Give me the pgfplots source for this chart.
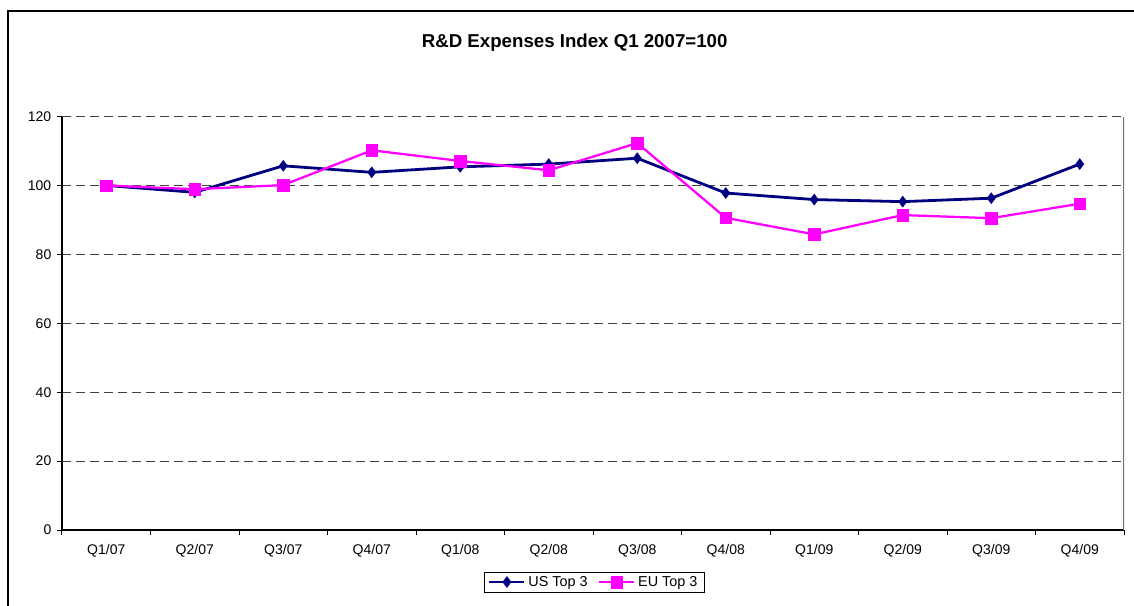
\documentclass[border=0pt]{standalone}
\usepackage{fontspec}
\setmainfont{Liberation Sans}
\usepackage{pgfplots}
\pgfplotsset{compat=1.18}
\definecolor{usnavy}{RGB}{0,0,128}
\definecolor{eumag}{RGB}{255,0,255}
\begin{document}
\begin{tikzpicture}
\path[use as bounding box] (0,0) rectangle (850.5pt,-454.5pt);
\draw[line width=1.7pt] (6.15pt,-455pt) -- (6.15pt,-8.3pt) -- (851pt,-8.3pt);
\node[font=\fontsize{14}{16}\selectfont\bfseries, anchor=base] at (431pt,-35.5pt) {R\&D Expenses Index Q1 2007=100};
\begin{axis}[
  at={(46.5pt,-397.5pt)}, anchor=south west,
  scale only axis, width=796.5pt, height=310.1pt,
  xmin=-0.5, xmax=11.5, ymin=0, ymax=120,
  axis lines*=left, axis line style={-, black, line width=0.8pt},
  xtick={0,...,11},
  xticklabels={Q1/07,Q2/07,Q3/07,Q4/07,Q1/08,Q2/08,Q3/08,Q4/08,Q1/09,Q2/09,Q3/09,Q4/09},
  minor xtick={-0.5,0.5,...,11.5},
  ytick={0,20,...,120},
  tick align=outside, major tick length=3.5pt, minor tick length=3.5pt,
  tick style={black, line width=0.75pt},
  major x tick style={draw=none},
  ymajorgrids, grid style={dash pattern=on 6.5pt off 4pt, black!75, line width=0.7pt},
  ticklabel style={font=\fontsize{10.5}{12}\selectfont},
  /pgf/number format/assume math mode=true,
  xticklabel style={yshift=-4pt},
  yticklabel style={xshift=-1pt},
  legend columns=2,
  legend cell align=left,
  legend style={at={(0.501,-0.1258)}, anchor=center, draw=black, line width=0.6pt,
    font=\fontsize{10.8}{12}\selectfont, inner xsep=3pt, inner ysep=1pt,
    /tikz/every even column/.append style={column sep=6pt}},
  legend image code/.code={\draw[mark repeat=2,mark phase=2,#1] plot coordinates {(0cm,0cm) (0.46cm,0cm) (0.92cm,0cm)};},
]
\draw[black!55, line width=1pt] (rel axis cs:1,0) -- (rel axis cs:1,1);
\addplot[usnavy, line width=2.1pt, mark=diamond*, mark size=4pt, mark options={solid, line width=0.5pt}]
  coordinates {(0,100) (1,98.0) (2,105.7) (3,103.8) (4,105.4) (5,106.2) (6,107.9) (7,97.8) (8,95.9) (9,95.3) (10,96.3) (11,106.2)};
\addlegendentry{US Top 3}
\addplot[eumag, line width=1.7pt, mark=square*, mark size=4.3pt, mark options={solid, line width=0.3pt}]
  coordinates {(0,100) (1,98.9) (2,100.1) (3,110.2) (4,107.1) (5,104.4) (6,112.3) (7,90.6) (8,85.8) (9,91.4) (10,90.5) (11,94.7)};
\addlegendentry{EU Top 3}
\end{axis}
\end{tikzpicture}
\end{document}
